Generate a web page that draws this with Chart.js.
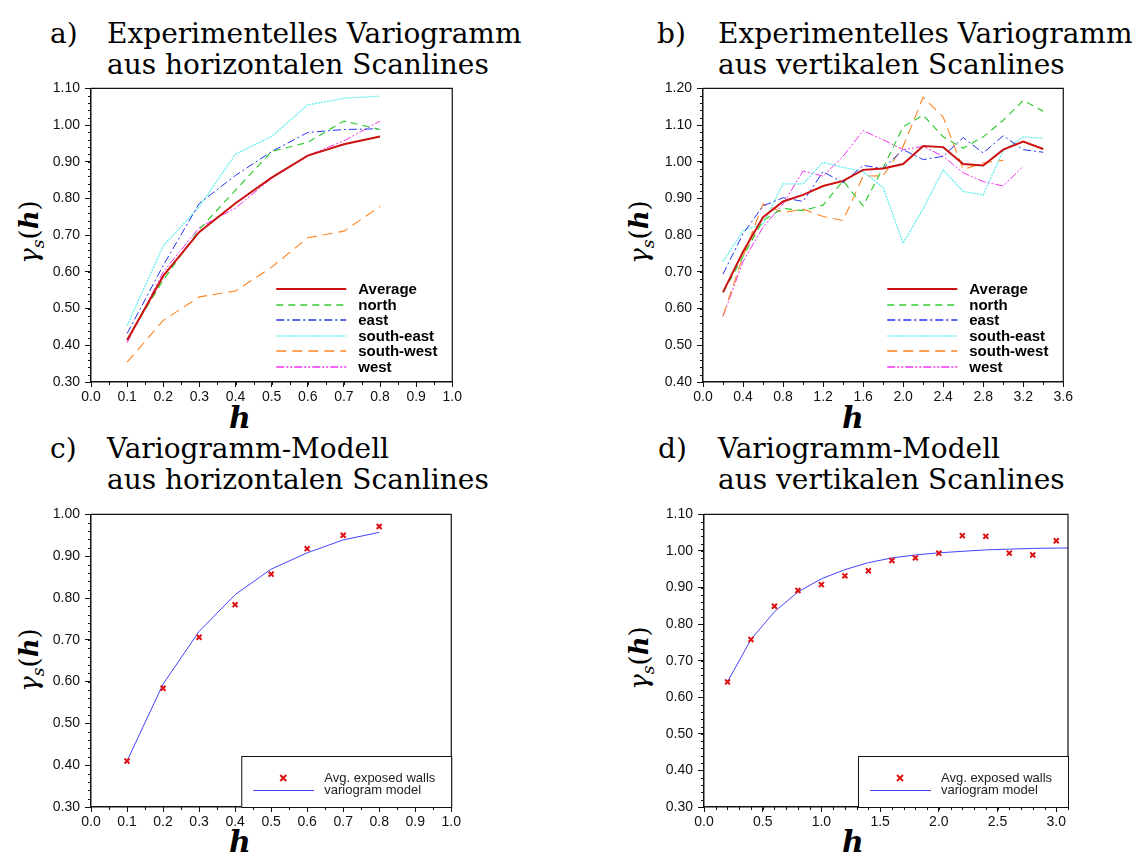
<!DOCTYPE html>
<html>
<head>
<meta charset="utf-8">
<script src="https://cdn.jsdelivr.net/npm/chart.js@4/dist/chart.umd.min.js"></script>
<style>
  body { margin: 0; background: #fff; width: 1139px; height: 860px; position: relative; overflow: hidden; }
  canvas { position: absolute; }
  .title { position: absolute; font-family: "DejaVu Serif", serif; font-size: 28px; line-height: 31px; color: #000; white-space: nowrap; }
  .ylab { position: absolute; font-family: "DejaVu Serif", serif; font-size: 26px; white-space: nowrap;
          transform: translate(-50%, -50%) rotate(-90deg); color: #000; }
  .ylab sub { font-size: 17px; }
  .xlab { position: absolute; font-family: "DejaVu Serif", serif; font-size: 30px; font-weight: bold; font-style: italic; color: #000; }
</style>
</head>
<body>
<div class="title" style="left:50px;top:18px">a)</div>
<div class="title" style="left:107px;top:18px">Experimentelles Variogramm<br>aus horizontalen Scanlines</div>
<div class="title" style="left:657px;top:18px">b)</div>
<div class="title" style="left:718px;top:18px">Experimentelles Variogramm<br>aus vertikalen Scanlines</div>
<div class="title" style="left:50px;top:433px">c)</div>
<div class="title" style="left:107px;top:433px">Variogramm-Modell<br>aus horizontalen Scanlines</div>
<div class="title" style="left:658px;top:433px">d)</div>
<div class="title" style="left:718px;top:433px">Variogramm-Modell<br>aus vertikalen Scanlines</div>

<div class="ylab" style="left:31px;top:232px"><i>γ</i><sub><i>s</i></sub>(<b><i>h</i></b>)</div>
<div class="ylab" style="left:641px;top:232px"><i>γ</i><sub><i>s</i></sub>(<b><i>h</i></b>)</div>
<div class="ylab" style="left:31px;top:660px"><i>γ</i><sub><i>s</i></sub>(<b><i>h</i></b>)</div>
<div class="ylab" style="left:641px;top:658px"><i>γ</i><sub><i>s</i></sub>(<b><i>h</i></b>)</div>

<div class="xlab" style="left:229px;top:400px">h</div>
<div class="xlab" style="left:842px;top:400px">h</div>
<div class="xlab" style="left:229px;top:824px">h</div>
<div class="xlab" style="left:842px;top:824px">h</div>

<canvas id="chartA" width="424" height="332" style="left:40px;top:75px"></canvas>
<canvas id="chartB" width="423" height="332" style="left:652px;top:75px"></canvas>
<canvas id="chartC" width="423" height="331" style="left:40px;top:501px"></canvas>
<canvas id="chartD" width="423" height="331" style="left:653px;top:501px"></canvas>

<script>
// panel a: horizontal scanlines
const hA = [0.1, 0.2, 0.3, 0.4, 0.5, 0.6, 0.7, 0.8];
const avgA = [0.414, 0.589, 0.709, 0.787, 0.857, 0.917, 0.948, 0.969];
const northA = [0.417, 0.578, 0.716, 0.823, 0.928, 0.953, 1.011, 0.988];
const eastA = [0.432, 0.618, 0.787, 0.863, 0.928, 0.980, 0.988, 0.990];
const southEastA = [0.454, 0.671, 0.778, 0.921, 0.969, 1.055, 1.073, 1.079];
const southWestA = [0.354, 0.468, 0.532, 0.548, 0.613, 0.693, 0.711, 0.778];
const westA = [0.407, 0.600, 0.721, 0.774, 0.855, 0.917, 0.957, 1.011];

// panel b: vertical scanlines
const hB = [0.2, 0.4, 0.6, 0.8, 1.0, 1.2, 1.4, 1.6, 1.8, 2.0, 2.2, 2.4, 2.6, 2.8, 3.0, 3.2, 3.4];
const avgB = [0.645, 0.755, 0.849, 0.892, 0.910, 0.934, 0.948, 0.978, 0.982, 0.994, 1.043, 1.040, 0.994, 0.990, 1.033, 1.055, 1.035];
const northB = [0.643, 0.742, 0.840, 0.873, 0.867, 0.882, 0.948, 0.880, 0.984, 1.095, 1.127, 1.068, 1.037, 1.068, 1.113, 1.167, 1.138];
const eastB = [0.694, 0.804, 0.880, 0.902, 0.892, 0.973, 0.943, 0.990, 0.982, 1.033, 1.006, 1.015, 1.066, 1.024, 1.071, 1.033, 1.026];
const southEastB = [0.728, 0.813, 0.831, 0.940, 0.940, 0.999, 0.985, 0.973, 0.930, 0.778, 0.872, 0.978, 0.919, 0.910, 1.030, 1.068, 1.064];
const southWestB = [0.581, 0.742, 0.885, 0.862, 0.871, 0.851, 0.840, 0.961, 0.962, 1.042, 1.176, 1.122, 0.979, 0.997, 1.004];
const westB = [0.579, 0.728, 0.822, 0.885, 0.975, 0.961, 1.015, 1.085, 1.060, 1.033, 1.042, 1.015, 0.970, 0.946, 0.934, 0.988];

// panel c: model, horizontal
const hC = [0.1, 0.2, 0.3, 0.4, 0.5, 0.6, 0.7, 0.8];
const obsC = [0.410, 0.584, 0.706, 0.784, 0.857, 0.918, 0.950, 0.971];
const modelC = [0.410, 0.594, 0.720, 0.808, 0.869, 0.908, 0.939, 0.957];

// panel d: model, vertical
const hD = [0.2, 0.4, 0.6, 0.8, 1.0, 1.2, 1.4, 1.6, 1.8, 2.0, 2.2, 2.4, 2.6, 2.8, 3.0];
const obsD = [0.642, 0.758, 0.849, 0.892, 0.908, 0.932, 0.946, 0.974, 0.981, 0.994, 1.042, 1.040, 0.994, 0.989, 1.028];
const modelHD = [0.2, 0.4, 0.6, 0.8, 1.0, 1.2, 1.4, 1.6, 1.8, 2.0, 2.2, 2.4, 2.6, 2.8, 3.0, 3.1];
const modelD = [0.642, 0.758, 0.834, 0.888, 0.924, 0.949, 0.968, 0.981, 0.989, 0.995, 0.999, 1.003, 1.005, 1.007, 1.008, 1.008];

const labelFont = { family: 'Liberation Sans, Arial, sans-serif', size: 14 };

function pts(xs, ys) {
  return ys.map(function (y, i) { return { x: xs[i], y: y }; });
}

function lineSet(label, xs, ys, style) {
  return {
    label: label, data: pts(xs, ys), borderColor: style.color, backgroundColor: style.color,
    borderWidth: style.width, borderDash: style.dash, pointRadius: 0, tension: 0, fill: false,
    legendStyle: style
  };
}

// minor ticks, top/right frame and the legends
const extras = {
  id: 'extras',
  afterDraw(chart, args, opts) {
    const ctx = chart.ctx;
    const a = chart.chartArea;
    const xs = chart.scales.x, ys = chart.scales.y;
    ctx.save();
    ctx.strokeStyle = '#111';
    ctx.lineWidth = 1.2;
    ctx.beginPath();
    ctx.moveTo(a.left, a.top); ctx.lineTo(a.right, a.top); ctx.lineTo(a.right, a.bottom);
    ctx.stroke();

    ctx.lineWidth = 1;
    ctx.beginPath();
    for (let v = xs.min; v <= xs.max + 1e-9; v += opts.minorX) {
      const px = Math.round(xs.getPixelForValue(v)) + 0.5;
      ctx.moveTo(px, a.bottom); ctx.lineTo(px, a.bottom + 3);
    }
    for (let v = ys.min; v <= ys.max + 1e-9; v += opts.minorY) {
      const py = Math.round(ys.getPixelForValue(v)) + 0.5;
      ctx.moveTo(a.left, py); ctx.lineTo(a.left - 3, py);
    }
    ctx.stroke();

    const sets = chart.data.datasets;
    if (opts.legend === 'lines') {
      ctx.font = 'bold 15px Liberation Sans, Arial, sans-serif';
      ctx.textBaseline = 'middle';
      sets.forEach(function (ds, i) {
        const st = ds.legendStyle;
        const y = Math.round(a.bottom - 93 + i * 15.5);
        ctx.beginPath();
        ctx.strokeStyle = st.color;
        ctx.lineWidth = Math.max(st.width, 1.5);
        ctx.setLineDash(st.dash);
        ctx.moveTo(a.right - 176, y); ctx.lineTo(a.right - 106, y);
        ctx.stroke();
        ctx.setLineDash([]);
        ctx.fillStyle = '#000';
        ctx.fillText(ds.label, a.right - 94, y + 1);
      });
    } else if (opts.legend === 'box') {
      ctx.fillStyle = '#fff';
      ctx.fillRect(a.right - 210, a.bottom - 51, 210, 51);
      ctx.strokeStyle = '#111';
      ctx.lineWidth = 1;
      ctx.strokeRect(a.right - 209.5, a.bottom - 50.5, 210, 51);
      ctx.font = '13px Liberation Sans, Arial, sans-serif';
      ctx.textBaseline = 'middle';
      // scatter entry
      const y1 = a.bottom - 29, cx = a.right - 168;
      ctx.strokeStyle = sets[0].borderColor;
      ctx.lineWidth = 2;
      ctx.beginPath();
      ctx.moveTo(cx - 3, y1 - 3); ctx.lineTo(cx + 3, y1 + 3);
      ctx.moveTo(cx + 3, y1 - 3); ctx.lineTo(cx - 3, y1 + 3);
      ctx.stroke();
      ctx.fillStyle = '#222';
      ctx.fillText(sets[0].label, a.right - 127, y1);
      // line entry
      const y2 = a.bottom - 16.5;
      ctx.strokeStyle = sets[1].borderColor;
      ctx.lineWidth = sets[1].borderWidth;
      ctx.beginPath();
      ctx.moveTo(a.right - 198, y2); ctx.lineTo(a.right - 137, y2);
      ctx.stroke();
      ctx.fillText(sets[1].label, a.right - 127, y2 - 0.5);
    }
    ctx.restore();
  }
};

function makeChart(id, datasets, xr, yr, minorX, legend) {
  return new Chart(document.getElementById(id), {
    type: 'line',
    data: { datasets: datasets },
    plugins: [extras],
    options: {
      responsive: false,
      animation: false,
      events: [],
      layout: { padding: { top: 8, right: 8, left: 0, bottom: 0 } },
      plugins: {
        legend: { display: false },
        tooltip: { enabled: false },
        extras: { minorX: minorX, minorY: 0.02, legend: legend }
      },
      scales: {
        x: {
          type: 'linear', min: xr[0], max: xr[1],
          ticks: { stepSize: xr[2], includeBounds: false, font: labelFont, color: '#111', padding: 2, maxRotation: 0,
            callback: function (v) { return Number(v).toFixed(1); } },
          grid: { drawOnChartArea: false, tickLength: 5, color: '#111' },
          border: { color: '#111', width: 1.5 },
          afterFit: function (s) { s.height = 25; }
        },
        y: {
          type: 'linear', min: yr[0], max: yr[1],
          ticks: { stepSize: 0.1, font: labelFont, color: '#111', padding: 5,
            callback: function (v) { return Number(v).toFixed(2); } },
          grid: { drawOnChartArea: false, tickLength: 6, color: '#111' },
          border: { color: '#111', width: 1.5 },
          afterFit: function (s) { s.width = 51; }
        }
      }
    }
  });
}

const avgStyle = { color: '#cc1111', width: 2, dash: [] };
const northStyle = { color: '#33cc33', width: 1.2, dash: [7, 5] };
const eastStyle = { color: '#2233ee', width: 1, dash: [8, 3, 2, 3] };
const southEastStyle = { color: '#66eeee', width: 1.3, dash: [2, 1] };
const southWestStyle = { color: '#ff8420', width: 1.1, dash: [10, 6] };
const westStyle = { color: '#ee33ee', width: 1, dash: [8, 2, 2, 2, 2, 2] };

function directionSets(xs, avg, north, east, se, sw, w) {
  return [
    lineSet('Average', xs, avg, avgStyle),
    lineSet('north', xs, north, northStyle),
    lineSet('east', xs, east, eastStyle),
    lineSet('south-east', xs, se, southEastStyle),
    lineSet('south-west', xs, sw, southWestStyle),
    lineSet('west', xs, w, westStyle)
  ];
}

makeChart('chartA', directionSets(hA, avgA, northA, eastA, southEastA, southWestA, westA),
  [0, 1, 0.1], [0.3, 1.1], 0.05, 'lines');

makeChart('chartB', directionSets(hB, avgB, northB, eastB, southEastB, southWestB, westB),
  [0, 3.6, 0.4], [0.4, 1.2], 0.2, 'lines');

function modelSets(xs, obs, mx, model) {
  return [
    { label: 'Avg. exposed walls', data: pts(xs, obs), showLine: false, pointStyle: 'crossRot',
      pointRadius: 3.5, pointBorderWidth: 2, borderColor: '#dd1111', backgroundColor: '#dd1111' },
    lineSet('variogram model', mx, model, { color: '#4444ff', width: 1, dash: [] })
  ];
}

makeChart('chartC', modelSets(hC, obsC, hC, modelC), [0, 1, 0.1], [0.3, 1.0], 0.05, 'box');
makeChart('chartD', modelSets(hD, obsD, modelHD, modelD), [0, 3.1, 0.5], [0.3, 1.1], 0.1, 'box');
</script>
</body>
</html>
